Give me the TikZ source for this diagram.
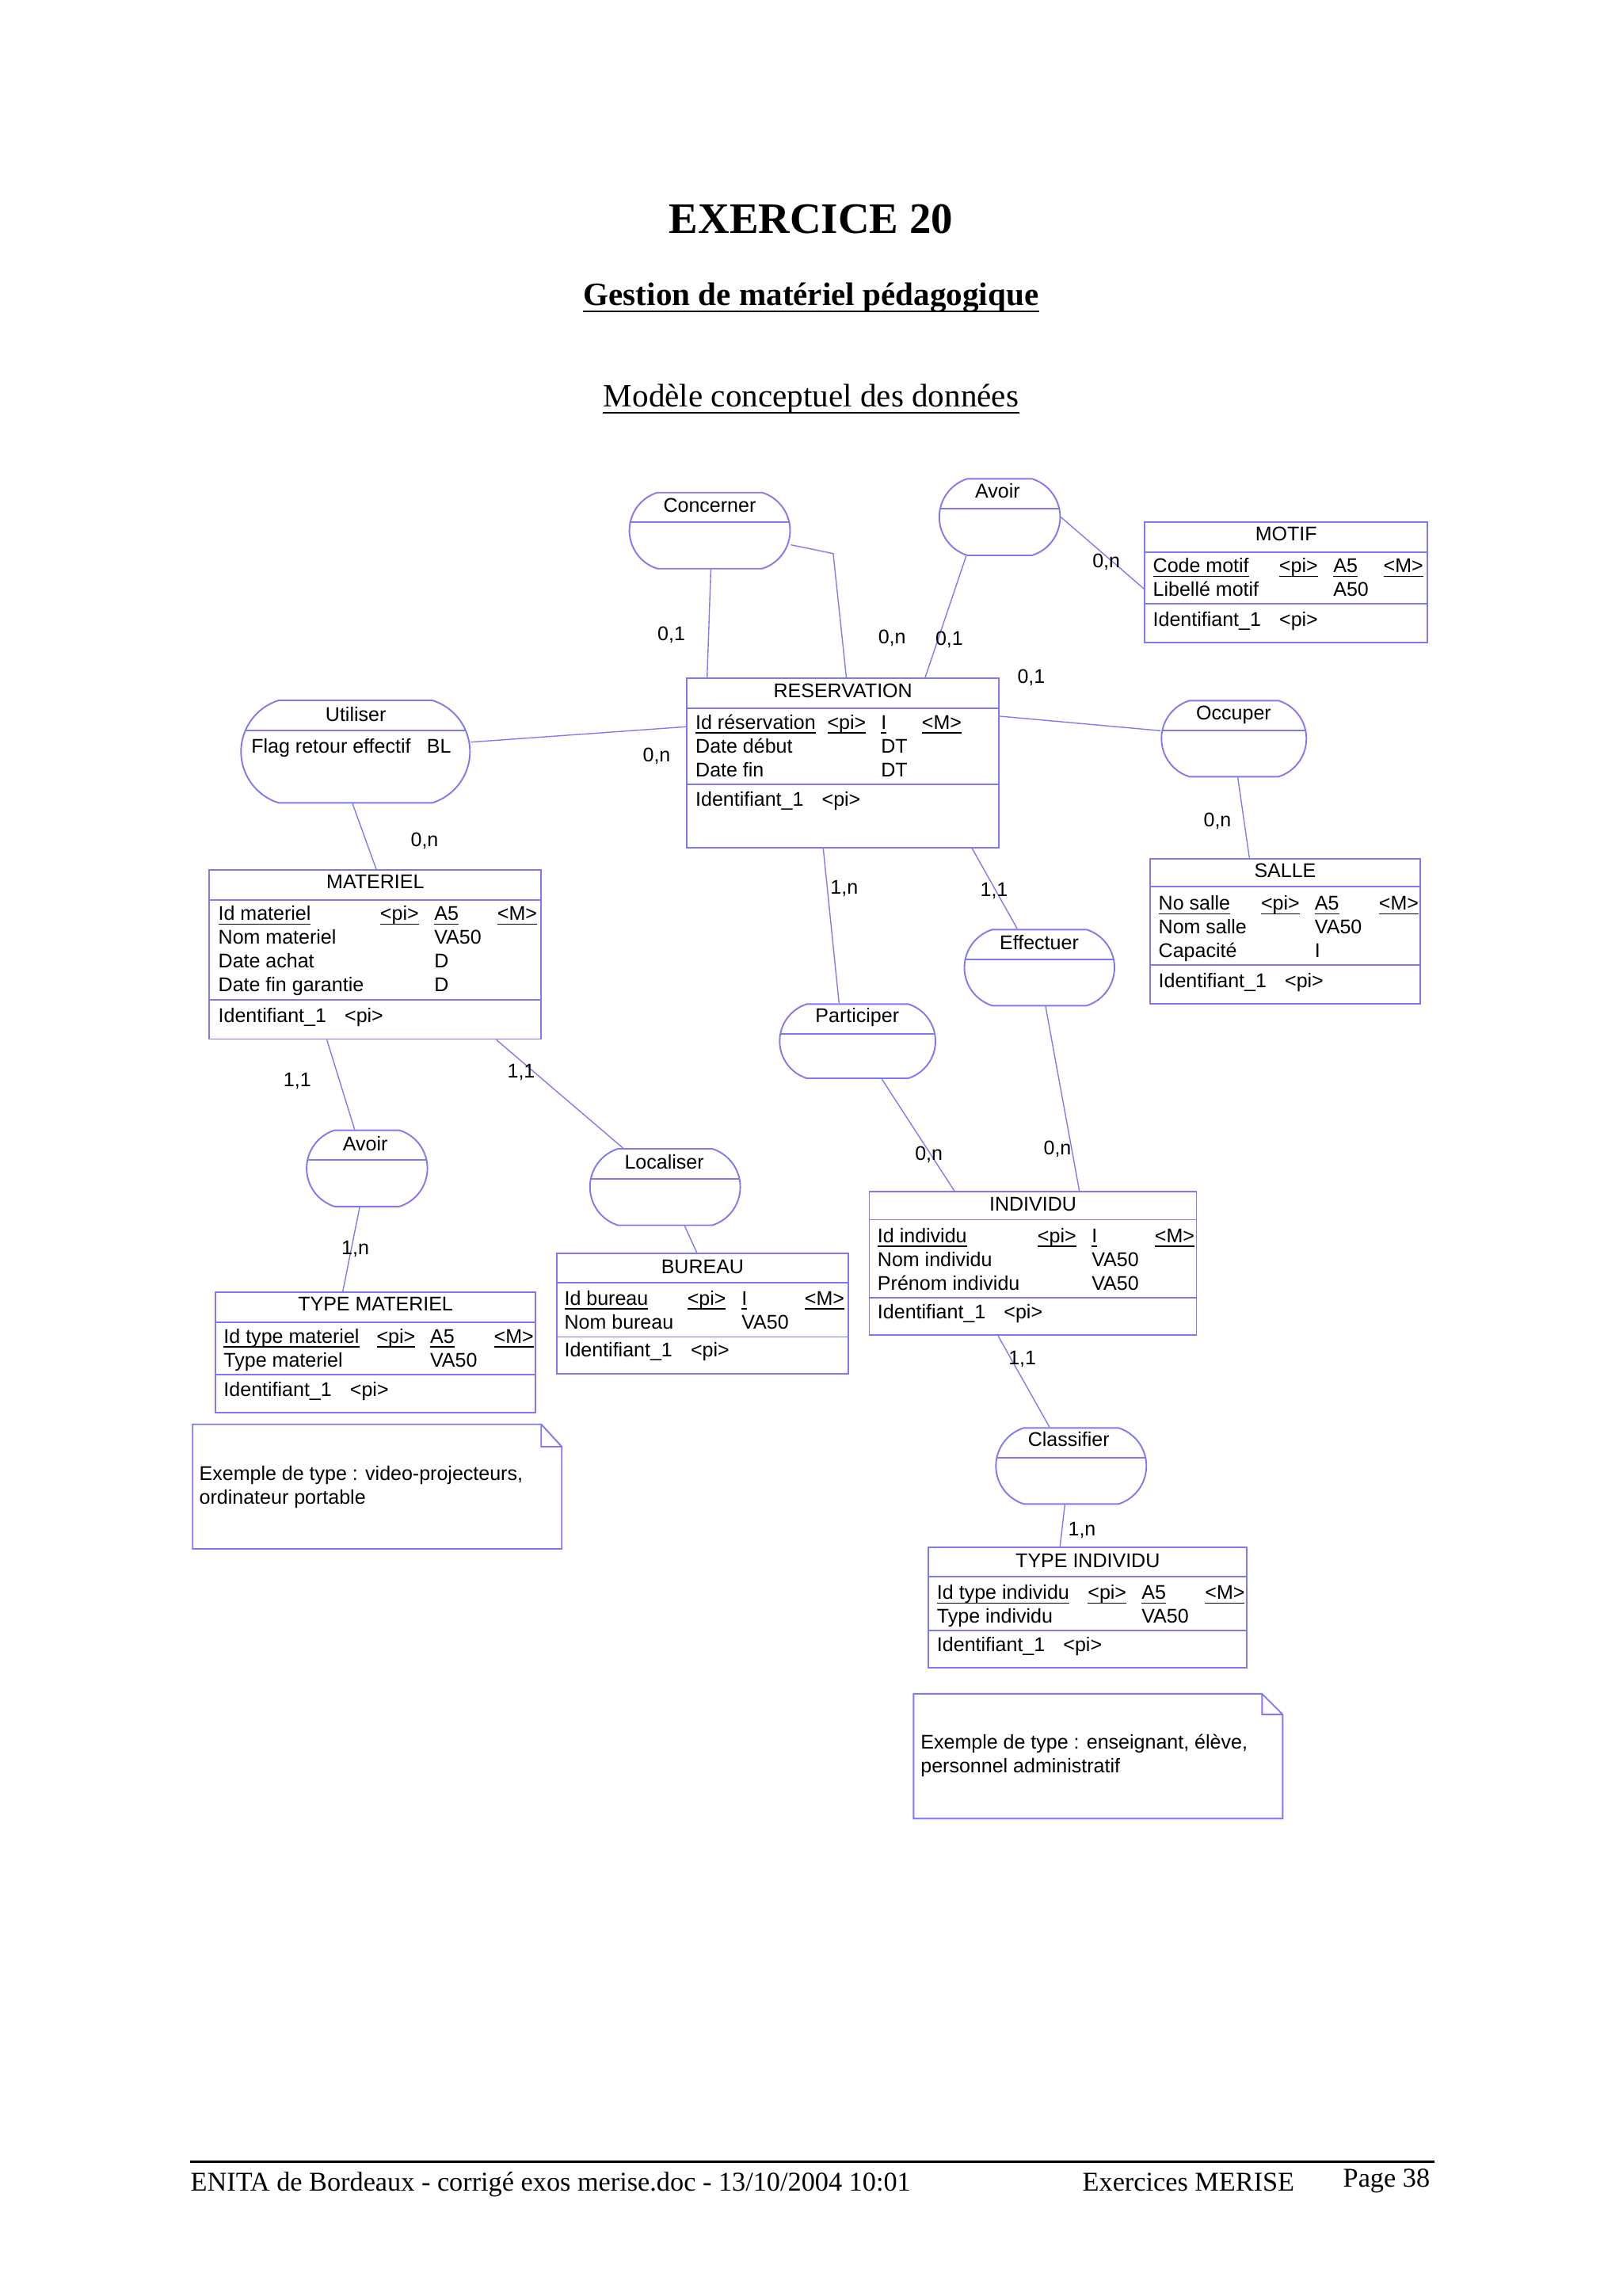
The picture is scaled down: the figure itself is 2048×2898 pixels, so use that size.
\documentclass[tikz,border=0pt]{standalone}
\usepackage{fontspec}
\setmainfont{Liberation Serif}
\newfontfamily\arial{Liberation Sans}
\usetikzlibrary{shapes.misc}
\definecolor{merise}{RGB}{128,120,240}
\newlength\pxu
\setlength\pxu{0.010254cm}
\newcommand\idul[1]{\underline{\smash{#1}}}
\newcommand\identrow{\makebox[159.5\pxu][l]{Identifiant\_1}<pi>}

\begin{document}
\begin{tikzpicture}[x=0.010254cm, y=-0.010254cm,
  box/.style={draw=merise, line width=0.55pt},
  link/.style={draw=merise, line width=0.4pt},
  entity/.style={box, rectangle, inner sep=0pt},
  assoc/.style={box, rounded rectangle, rounded rectangle arc length=145, inner sep=0pt,
    path picture={\draw[box] ([yshift=-37.7*\pxu]path picture bounding box.north west) -- ([yshift=-37.7*\pxu]path picture bounding box.north east);}},
  wh/.style 2 args={minimum width=#1*\pxu, minimum height=#2*\pxu},
  txt/.style={font=\arial\fontsize{7.3}{8.75}\selectfont, inner sep=0pt, anchor=base west},
  ctr/.style={txt, anchor=base},
  page/.style={inner sep=0pt, anchor=base}]
    \path[fill=white] (0,0) rectangle (2048,2898);

    % Titles
    \node[page, font=\bfseries\fontsize{16}{19}\selectfont] (exercice) at (1024,294) {EXERCICE 20};
    \node[page, font=\bfseries\fontsize{12}{14}\selectfont] (gestion) at (1024,385.7) {Gestion de matériel pédagogique};
    \draw[line width=0.6pt] ([yshift=-2.2pt]gestion.base west) -- ([yshift=-2.2pt]gestion.base east);
    \node[page, font=\fontsize{12}{14}\selectfont] (modele) at (1024,513.3) {Modèle conceptuel des données};
    \draw[line width=0.5pt] ([yshift=-2.2pt]modele.base west) -- ([yshift=-2.2pt]modele.base east);

    % Associations
    \node[assoc, wh={202.9}{96}] (concerner) at (896.05,669.7) {};
    \node[assoc, wh={152.6}{96.7}] (avoirm) at (1262.1,652.65) {};
    \node[assoc, wh={289}{129.3}] (utiliser) at (448.8,948.65) {};
    \node[assoc, wh={183}{96}] (occuper) at (1557.8,932.3) {};
    \node[assoc, wh={189.5}{96}] (effectuer) at (1312.25,1221.3) {};
    \node[assoc, wh={196.7}{93.7}] (participer) at (1082.65,1314.15) {};
    \node[assoc, wh={152.5}{96.2}] (avoirt) at (463.35,1474.7) {};
    \node[assoc, wh={189.8}{96.5}] (localiser) at (839.7,1498.25) {};
    \node[assoc, wh={190}{96}] (classifier) at (1352.3,1850.3) {};

    \node[ctr] (l-concerner) at (896,646.7) {Concerner};
    \node[ctr] (l-avoirm) at (1259.4,628.3) {Avoir};
    \node[ctr] (l-utiliser) at (449.2,910) {Utiliser};
    \node[txt] (a-utiliser) at (316.7,950) {\makebox[221.6\pxu][l]{Flag retour effectif}BL};
    \node[ctr] (l-occuper) at (1557.5,908.3) {Occuper};
    \node[ctr] (l-effectuer) at (1312,1198.5) {Effectuer};
    \node[ctr] (l-participer) at (1082.3,1290.7) {Participer};
    \node[ctr] (l-avoirt) at (461.2,1452.9) {Avoir};
    \node[ctr] (l-localiser) at (838.6,1475.8) {Localiser};
    \node[ctr] (l-classifier) at (1349.3,1825) {Classifier};

    % Entities
    \node[entity, wh={357}{152}] (motif) at (1623.8,735) {};
    \draw[box] (motif.west |- 0,696.7) -- (motif.east |- 0,696.7) (motif.west |- 0,762.3) -- (motif.east |- 0,762.3);
    \node[ctr] (t-motif) at (1623.8,682.7) {MOTIF};
    \node[txt] (b-motif) at (1455,722.7) {\begin{tabular}[t]{@{}p{159.3\pxu}@{}p{68.4\pxu}@{}p{63.3\pxu}@{}l@{}}
      \idul{Code motif} & \idul{<pi>} & \idul{A5} & \idul{<M>}\\
      Libellé motif & & A50 &
    \end{tabular}};
    \node[txt] (i-motif) at (1455,790.7) {\identrow};

    \node[entity, wh={394.5}{213.7}] (reservation) at (1064.15,963.15) {};
    \draw[box] (reservation.west |- 0,894) -- (reservation.east |- 0,894) (reservation.west |- 0,989.7) -- (reservation.east |- 0,989.7);
    \node[ctr] (t-reservation) at (1064.15,880) {RESERVATION};
    \node[txt] (b-reservation) at (877.5,920) {\begin{tabular}[t]{@{}p{166.4\pxu}@{}p{67.7\pxu}@{}p{51.7\pxu}@{}l@{}}
      \idul{Id réservation} & \idul{<pi>} & \idul{I} & \idul{<M>}\\
      Date début & & DT &\\
      Date fin & & DT &
    \end{tabular}};
    \node[txt] (i-reservation) at (877.5,1017.3) {\identrow};

    \node[entity, wh={419}{213.5}] (materiel) at (473.8,1204.75) {};
    \draw[box] (materiel.west |- 0,1135.7) -- (materiel.east |- 0,1135.7) (materiel.west |- 0,1262.3) -- (materiel.east |- 0,1262.3);
    \node[ctr] (t-materiel) at (473.8,1121.7) {MATERIEL};
    \node[txt] (b-materiel) at (275,1161.7) {\begin{tabular}[t]{@{}p{204.3\pxu}@{}p{68.4\pxu}@{}p{79.6\pxu}@{}l@{}}
      \idul{Id materiel} & \idul{<pi>} & \idul{A5} & \idul{<M>}\\
      Nom materiel & & VA50 &\\
      Date achat & & D &\\
      Date fin garantie & & D &
    \end{tabular}};
    \node[txt] (i-materiel) at (275,1290) {\identrow};

    \node[entity, wh={340.3}{183.3}] (salle) at (1622.45,1175.35) {};
    \draw[box] (salle.west |- 0,1119.3) -- (salle.east |- 0,1119.3) (salle.west |- 0,1217.6) -- (salle.east |- 0,1217.6);
    \node[ctr] (t-salle) at (1622.45,1107.4) {SALLE};
    \node[txt] (b-salle) at (1462,1148.7) {\begin{tabular}[t]{@{}p{129.4\pxu}@{}p{67.9\pxu}@{}p{80.9\pxu}@{}l@{}}
      \idul{No salle} & \idul{<pi>} & \idul{A5} & \idul{<M>}\\
      Nom salle & & VA50 &\\
      Capacité & & I &
    \end{tabular}};
    \node[txt] (i-salle) at (1462,1246) {\identrow};

    \node[entity, wh={413}{180.7}] (individu) at (1304,1594.65) {};
    \draw[box] (individu.west |- 0,1539.5) -- (individu.east |- 0,1539.5) (individu.west |- 0,1637.7) -- (individu.east |- 0,1637.7);
    \node[ctr] (t-individu) at (1304,1528.3) {INDIVIDU};
    \node[txt] (b-individu) at (1107.3,1568.3) {\begin{tabular}[t]{@{}p{202\pxu}@{}p{68.4\pxu}@{}p{79.6\pxu}@{}l@{}}
      \idul{Id individu} & \idul{<pi>} & \idul{I} & \idul{<M>}\\
      Nom individu & & VA50 &\\
      Prénom individu & & VA50 &
    \end{tabular}};
    \node[txt] (i-individu) at (1107.3,1664) {\identrow};

    \node[entity, wh={368.6}{152}] (bureau) at (886.9,1658) {};
    \draw[box] (bureau.west |- 0,1619.4) -- (bureau.east |- 0,1619.4) (bureau.west |- 0,1687.5) -- (bureau.east |- 0,1687.5);
    \node[ctr] (t-bureau) at (886.9,1607.2) {BUREAU};
    \node[txt] (b-bureau) at (711.9,1647.1) {\begin{tabular}[t]{@{}p{155.2\pxu}@{}p{68.6\pxu}@{}p{79.5\pxu}@{}l@{}}
      \idul{Id bureau} & \idul{<pi>} & \idul{I} & \idul{<M>}\\
      Nom bureau & & VA50 &
    \end{tabular}};
    \node[txt] (i-bureau) at (711.9,1712.6) {\identrow};

    \node[entity, wh={404.6}{152.1}] (typemat) at (474.1,1707.25) {};
    \draw[box] (typemat.west |- 0,1669) -- (typemat.east |- 0,1669) (typemat.west |- 0,1734.8) -- (typemat.east |- 0,1734.8);
    \node[ctr] (t-typemat) at (474.1,1654.5) {TYPE MATERIEL};
    \node[txt] (b-typemat) at (281.8,1695.2) {\begin{tabular}[t]{@{}p{193.1\pxu}@{}p{67.5\pxu}@{}p{80.6\pxu}@{}l@{}}
      \idul{Id type materiel} & \idul{<pi>} & \idul{A5} & \idul{<M>}\\
      Type materiel & & VA50 &
    \end{tabular}};
    \node[txt] (i-typemat) at (281.8,1762.6) {\identrow};

    \node[entity, wh={402}{152.2}] (typeind) at (1373.3,2028.9) {};
    \draw[box] (typeind.west |- 0,1990) -- (typeind.east |- 0,1990) (typeind.west |- 0,2058) -- (typeind.east |- 0,2058);
    \node[ctr] (t-typeind) at (1373.3,1978.3) {TYPE INDIVIDU};
    \node[txt] (b-typeind) at (1182.3,2018.6) {\begin{tabular}[t]{@{}p{190.4\pxu}@{}p{68\pxu}@{}p{80\pxu}@{}l@{}}
      \idul{Id type individu} & \idul{<pi>} & \idul{A5} & \idul{<M>}\\
      Type individu & & VA50 &
    \end{tabular}};
    \node[txt] (i-typeind) at (1182.3,2084.6) {\identrow};

    % Links with cardinalities
    \coordinate (bend) at (1051.9,698.7);
    \draw[link] (concerner.south -| 897.4,0) -- (reservation.north -| 892.7,0);
    \draw[link] (concerner.east |- 0,687.7) -- (bend) -- (reservation.north -| 1068.5,0);
    \draw[link] (avoirm.south -| 1219.7,0) -- (reservation.north -| 1167.9,0);
    \draw[link] (avoirm.east |- 0,652.7) -- (motif.west |- 0,743.3);
    \draw[link] (reservation.east |- 0,904) -- (occuper.west |- 0,922.3);
    \draw[link] (occuper.south -| 1562.7,0) -- (salle.north -| 1577.3,0);
    \draw[link] (utiliser.east |- 0,936.7) -- (reservation.west |- 0,917.3);
    \draw[link] (utiliser.south -| 445,0) -- (materiel.north -| 475,0);
    \draw[link] (reservation.south -| 1039.3,0) -- (participer.north -| 1059.3,0);
    \draw[link] (reservation.south -| 1227.3,0) -- (effectuer.north -| 1284.3,0);
    \draw[link] (participer.south -| 1113.3,0) -- (individu.north -| 1205,0);
    \draw[link] (effectuer.south -| 1320,0) -- (individu.north -| 1362.7,0);
    \draw[link] (materiel.south -| 412.7,0) -- (avoirt.north -| 447.7,0);
    \draw[link] (materiel.south -| 626.7,0) -- (localiser.north -| 786.5,0);
    \draw[link] (avoirt.south -| 454,0) -- (typemat.north -| 432.7,0);
    \draw[link] (localiser.south -| 864.4,0) -- (bureau.north -| 879.7,0);
    \draw[link] (individu.south -| 1260,0) -- (classifier.north -| 1325,0);
    \draw[link] (classifier.south -| 1344.3,0) -- (typeind.north -| 1338.3,0);

    \node[ctr] (c1) at (847.6,808.5) {0,1};
    \node[ctr] (c2) at (1126.2,812.7) {0,n};
    \node[ctr] (c3) at (1198.4,814) {0,1};
    \node[ctr] (c4) at (1396.7,716) {0,n};
    \node[ctr] (c5) at (1301.9,862.5) {0,1};
    \node[ctr] (c6) at (1537,1043) {0,n};
    \node[ctr] (c7) at (829,961) {0,n};
    \node[ctr] (c8) at (536,1068) {0,n};
    \node[ctr] (c9) at (1065.8,1128.3) {1,n};
    \node[ctr] (c10) at (1255,1131) {1,1};
    \node[ctr] (c11) at (1172.7,1464.3) {0,n};
    \node[ctr] (c12) at (1335,1457.6) {0,n};
    \node[ctr] (c13) at (375.3,1371.7) {1,1};
    \node[ctr] (c14) at (658,1360.6) {1,1};
    \node[ctr] (c15) at (448.6,1583.2) {1,n};
    \node[ctr] (c17) at (1290.7,1722.6) {1,1};
    \node[ctr] (c18) at (1366,1938.6) {1,n};

    % Notes
    \draw[box] (243.3,1797.7) -- (683.3,1797.7) -- (709.3,1826) -- (709.3,1955) -- (243.3,1955) -- cycle
      (683.3,1797.7) -- (683.3,1826) -- (709.3,1826);
    \node[txt] (n-typemat) at (251,1868.3) {\begin{tabular}[t]{@{}l@{}}Exemple de type : video-projecteurs,\\ordinateur portable\end{tabular}};
    \draw[box] (1153.3,2137.9) -- (1593.3,2137.9) -- (1619.3,2163.9) -- (1619.3,2295.4) -- (1153.3,2295.4) -- cycle
      (1593.3,2137.9) -- (1593.3,2163.9) -- (1619.3,2163.9);
    \node[txt] (n-typeind) at (1161.7,2207.9) {\begin{tabular}[t]{@{}l@{}}Exemple de type : enseignant, élève,\\personnel administratif\end{tabular}};

    % Footer
    \draw[line width=0.8pt] (240.3,2728.3) -- (1810.6,2728.3);
    \node[page, anchor=base west, font=\fontsize{10}{12}\selectfont] (enita) at (240,2765) {ENITA de Bordeaux - corrigé exos merise.doc - 13/10/2004 10:01};
    \node[page, anchor=base west, font=\fontsize{10}{12}\selectfont] (exos) at (1366,2765) {Exercices MERISE};
    \node[page, anchor=base west, font=\fontsize{10}{12}\selectfont] (pagenum) at (1695,2760) {Page 38};
\end{tikzpicture}
\end{document}
